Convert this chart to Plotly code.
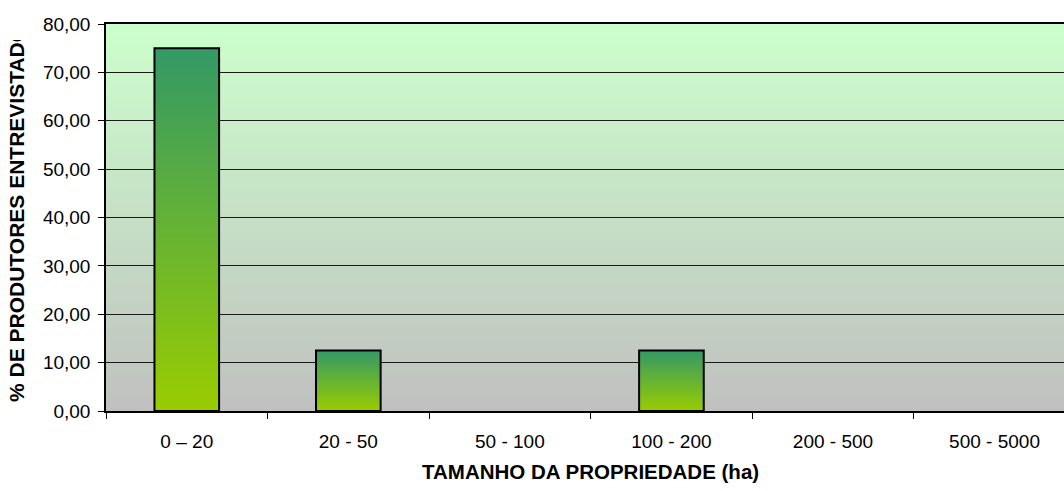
import plotly.graph_objects as go

categories = ["0 – 20", "20 - 50", "50 - 100", "100 - 200", "200 - 500", "500 - 5000"]
values = [75.0, 12.5, 0.0, 12.5, 0.0, 0.0]
y_ticks = [0, 10, 20, 30, 40, 50, 60, 70, 80]

FONT = "Liberation Sans, Arial, sans-serif"
bar_half = 0.2

fig = go.Figure()

for i, v in enumerate(values):
    if v <= 0:
        continue
    fig.add_trace(go.Scatter(
        x=[i - bar_half, i + bar_half, i + bar_half, i - bar_half, i - bar_half],
        y=[0, 0, v, v, 0],
        mode="lines", fill="toself",
        fillgradient=dict(type="vertical",
                          colorscale=[[0, "#99CC00"], [1, "#339966"]]),
        line=dict(color="black", width=2),
        hoverinfo="skip", showlegend=False,
    ))

# background gradient (plot area)
def lerp(a, b, t):
    return tuple(round(a[k] + (b[k] - a[k]) * t) for k in range(3))

bottom_c = (192, 192, 192)
top_c = (204, 255, 204)
n = 80
shapes = []
for k in range(n):
    t = (k + 0.5) / n
    c = lerp(bottom_c, top_c, t)
    shapes.append(dict(type="rect", xref="paper", yref="y",
                       x0=0, x1=1, y0=80 * k / n, y1=min(80, 80 * (k + 1) / n + 0.5),
                       fillcolor="rgb(%d,%d,%d)" % c, line=dict(width=0),
                       layer="below"))

fig.update_layout(
    width=1064, height=491,
    margin=dict(l=106, r=0, t=24, b=80),
    paper_bgcolor="white", plot_bgcolor="white",
    separators=",.",
    font=dict(family=FONT, size=19, color="black"),
    shapes=shapes,
    showlegend=False,
    xaxis=dict(
        range=[-0.5, 5.43], tickvals=list(range(len(categories))), ticktext=categories,
        ticks="", showgrid=False, zeroline=False,
        showline=True, linecolor="black", linewidth=1.5, mirror=True,
        tickfont=dict(size=19, family=FONT, color="black"),
        minor=dict(tickvals=[i - 0.5 for i in range(len(categories) + 1)],
                   ticks="outside", ticklen=6, tickcolor="black", tickwidth=1,
                   showgrid=False),
        ticklabelstandoff=12,
    ),
    yaxis=dict(
        range=[0, 80], tickvals=y_ticks, tickformat=".2f",
        ticks="outside", ticklen=6, tickcolor="black",
        showgrid=True, gridcolor="#1a1a1a", gridwidth=1,
        zeroline=False, showline=True, linecolor="black", linewidth=1.5,
        tickfont=dict(size=19, family=FONT, color="black"),
        ticklabelstandoff=4,
    ),
    annotations=[
        dict(text="<b>TAMANHO DA PROPRIEDADE (ha)</b>", xref="x", yref="paper",
             x=2.5, y=(411 - 471) / 387, xanchor="center", yanchor="middle",
             showarrow=False, font=dict(size=20.5, family=FONT, color="black")),
        dict(text="<b>% DE PRODUTORES ENTREVISTADOS</b>", xref="paper", yref="paper",
             x=(17 - 106) / 958, y=(411 - 221) / 387, xanchor="center", yanchor="middle",
             textangle=-90, width=362, align="left", showarrow=False,
             font=dict(size=21, family=FONT, color="black")),
    ],
)

fig.write_html("out.html", config={"displayModeBar": False},
               post_script="document.body.style.margin='0';document.body.style.overflow='hidden';")
